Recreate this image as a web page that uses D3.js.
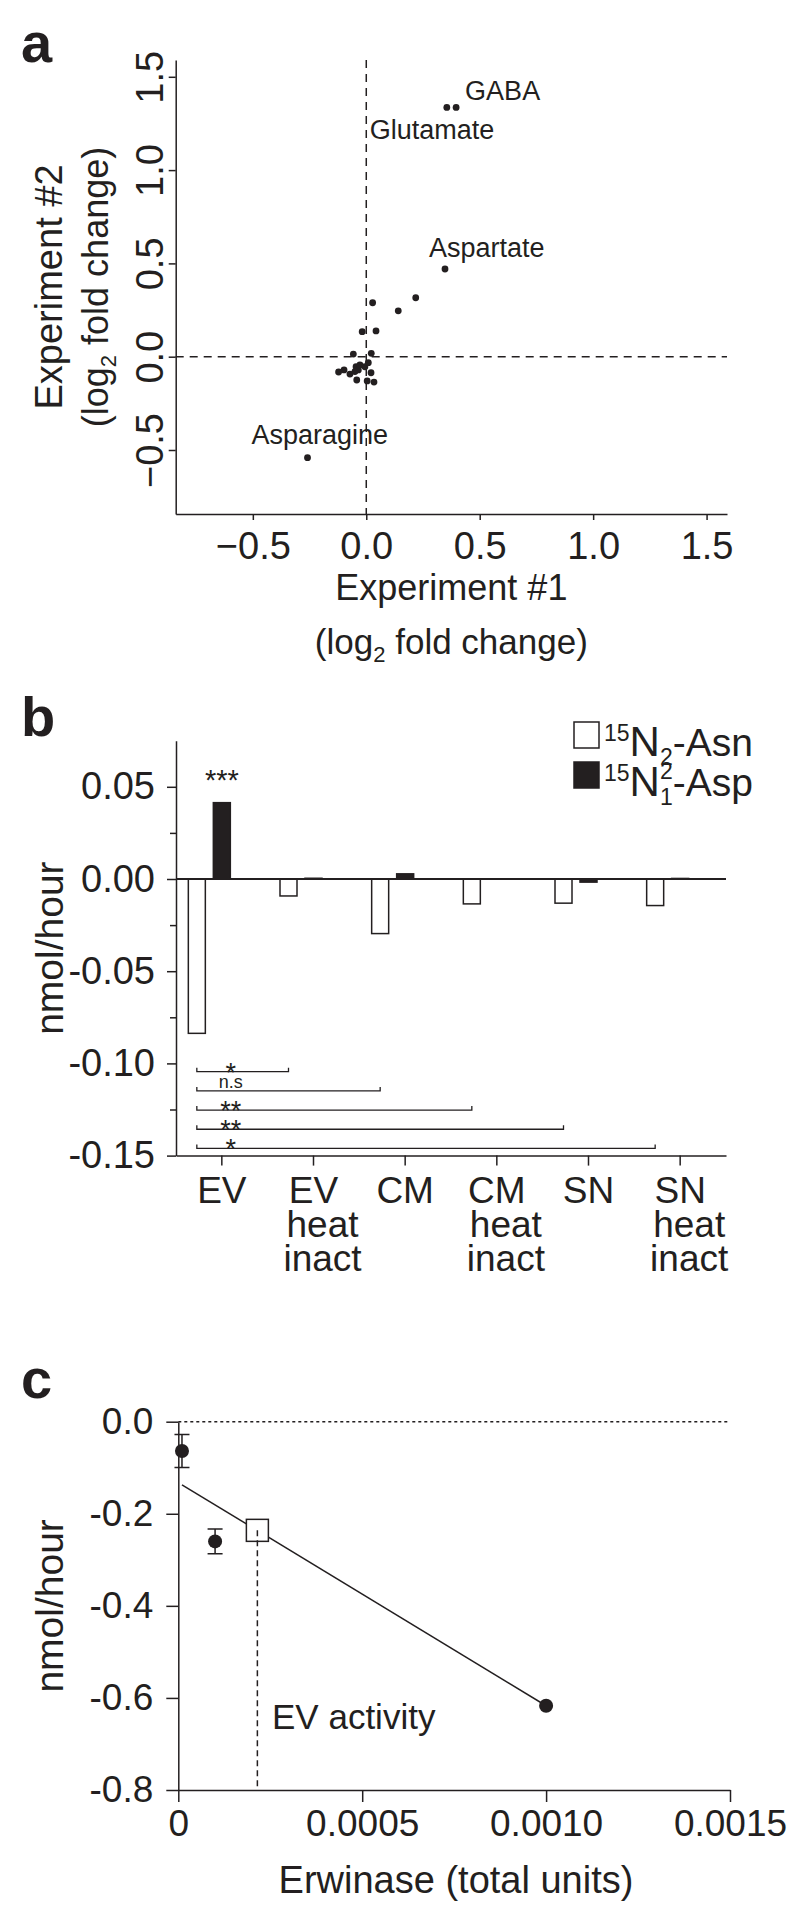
<!DOCTYPE html>
<html>
<head>
<meta charset="utf-8">
<script src="https://cdn.jsdelivr.net/npm/d3@7"></script>
<style>
  body { margin: 0; background: #fff; }
  svg text { font-family: "Liberation Sans", Arial, Helvetica, sans-serif; fill: #231f20; }
</style>
</head>
<body>
<div id="figure"></div>
<script>
// ---------- data: panel a (log2 fold change, two experiments) ----------
const exp1 = [0.355, 0.396, 0.347, 0.218, 0.141, 0.028, 0.043, -0.018, -0.057, 0.022,
  -0.122, -0.098, -0.072, -0.045, -0.035, -0.028, -0.006, 0.009, 0.021, -0.042, 0.004, 0.034, -0.050, -0.259];
const exp2 = [1.336, 1.336, 0.470, 0.316, 0.246, 0.289, 0.138, 0.134, 0.014, 0.018,
  -0.082, -0.071, -0.093, -0.054, -0.071, -0.044, -0.054, -0.032, -0.086, -0.125, -0.130, -0.136, -0.080, -0.541];
const aminoNames = ["Glutamate", "GABA", "Aspartate", "", "", "", "", "", "", "",
  "", "", "", "", "", "", "", "", "", "", "", "", "", "Asparagine"];
const aTicks = [-0.5, 0, 0.5, 1.0, 1.5];

// ---------- data: panel b (nmol/hour) ----------
const bCategories = ["EV", "EV heat inact", "CM", "CM heat inact", "SN", "SN heat inact"];
const asnRate = [-0.0837, -0.0092, -0.0296, -0.0135, -0.0131, -0.0144];
const aspRate = [0.0414, 0.0004, 0.0028, 0, -0.0017, 0.0003];
const bTicksMajor = [0.05, 0, -0.05, -0.10, -0.15];
const bTicksMinor = [0.025, -0.025, -0.075, -0.125];
const compTargets = ["EV heat inact", "CM", "CM heat inact", "SN", "SN heat inact"];
const compLabels = ["*", "n.s", "**", "**", "*"];

// ---------- data: panel c (Erwinase standard curve) ----------
const erwUnits = [0.00001, 0.0001, 0.001];
const erwRate = [-0.0636, -0.260, -0.617];
const erwErr = [0.036, 0.027, 0];
const fitLine = [{ x: 0.00001, y: -0.137 }, { x: 0.001, y: -0.617 }];
const evActivity = { x: 0.000215, y: -0.236 };
const cTicksY = [0, -0.2, -0.4, -0.6, -0.8];
const cTicksX = [0, 0.0005, 0.0010, 0.0015];

const ink = "#231f20";
const svg = d3.select("#figure").append("svg")
  .attr("width", 800).attr("height", 1924)
  .style("background", "#fff");

//style an axis group the same way everywhere
function styleAxis(g, size) {
  g.attr("font-family", null).attr("font-size", null);
  g.selectAll(".domain, .tick line").attr("stroke", ink).attr("stroke-width", 1.5);
  g.selectAll(".tick text").attr("fill", ink).style("font-size", size + "px");
}
const hyphen = (f) => (d) => f(d).replace("\u2212", "-");

//panel letters
[["a", 62], ["b", 736], ["c", 1398]].forEach(([t, y]) => {
  svg.append("text").attr("x", 21).attr("y", y)
    .style("font-size", "56px").style("font-weight", "bold").text(t);
});

////////////////////// panel a //////////////////////
const xA = d3.scaleLinear().domain([-0.84, 1.59]).range([175.7, 727]);
const yA = d3.scaleLinear().domain([-0.843, 1.59]).range([514, 60]);
const gA = svg.append("g");

gA.append("g")
  .attr("transform", `translate(0, ${yA.range()[0]})`)
  .call(d3.axisBottom(xA).tickValues(aTicks).tickFormat(d3.format(".1f"))
    .tickSize(6).tickSizeOuter(0).tickPadding(12))
  .call((g) => styleAxis(g, 38));

const yAxisA = gA.append("g")
  .attr("transform", `translate(${xA.range()[0]}, 0)`)
  .call(d3.axisLeft(yA).tickValues(aTicks).tickFormat(d3.format(".1f"))
    .tickSize(7).tickSizeOuter(0))
  .call((g) => styleAxis(g, 38));
//rotated tick labels like the original
yAxisA.selectAll(".tick text")
  .attr("transform", "rotate(-90)")
  .attr("x", 0).attr("y", -13).attr("dy", null)
  .attr("text-anchor", "middle");

//dashed zero lines
gA.append("line")
  .attr("x1", xA(0)).attr("x2", xA(0))
  .attr("y1", yA.range()[1]).attr("y2", yA.range()[0])
  .attr("stroke", ink).attr("stroke-width", 1.5).attr("stroke-dasharray", "8,6");
gA.append("line")
  .attr("x1", xA.range()[0]).attr("x2", xA.range()[1])
  .attr("y1", yA(0)).attr("y2", yA(0))
  .attr("stroke", ink).attr("stroke-width", 1.5).attr("stroke-dasharray", "8,6");

gA.selectAll(".dot")
  .data(exp1.map((d, i) => ({ x: d, y: exp2[i], name: aminoNames[i] })))
  .enter()
  .append("circle")
  .attr("class", "dot")
  .attr("cx", (d) => xA(d.x))
  .attr("cy", (d) => yA(d.y))
  .attr("r", 3.4)
  .attr("fill", ink);

//label offsets (px) from each named point
const labelShift = {
  GABA: [9, -7],
  Glutamate: [-77, 32],
  Aspartate: [-16, -12],
  Asparagine: [-56, -14],
};
exp1.forEach((d, i) => {
  const name = aminoNames[i];
  if (!name) return;
  gA.append("text")
    .attr("x", xA(d) + labelShift[name][0])
    .attr("y", yA(exp2[i]) + labelShift[name][1])
    .style("font-size", "27px")
    .text(name);
});

//axis titles
const xTitleA = (xA.range()[0] + xA.range()[1]) / 2;
gA.append("text").attr("x", xTitleA).attr("y", 600)
  .attr("text-anchor", "middle").style("font-size", "36px").text("Experiment #1");
const logA = gA.append("text").attr("x", xTitleA).attr("y", 654)
  .attr("text-anchor", "middle").style("font-size", "35px");
logA.append("tspan").text("(log");
logA.append("tspan").attr("dy", 8).style("font-size", "22px").text("2");
logA.append("tspan").attr("dy", -8).text(" fold change)");

const yMidA = (yA.range()[0] + yA.range()[1]) / 2;
gA.append("text").attr("transform", `translate(62, ${yMidA}) rotate(-90)`)
  .attr("text-anchor", "middle").style("font-size", "38px").text("Experiment #2");
const logA2 = gA.append("text").attr("transform", `translate(108, ${yMidA}) rotate(-90)`)
  .attr("text-anchor", "middle").style("font-size", "36px");
logA2.append("tspan").text("(log");
logA2.append("tspan").attr("dy", 8).style("font-size", "22px").text("2");
logA2.append("tspan").attr("dy", -8).text(" fold change)");

////////////////////// panel b //////////////////////
const xB = d3.scaleBand().domain(bCategories).range([176, 726]);
const yB = d3.scaleLinear().domain([-0.15, 0.075]).range([1155.6, 740.7]);
const gB = svg.append("g");
const cx = (c) => xB(c) + xB.bandwidth() / 2;

gB.append("g")
  .attr("transform", `translate(${xB.range()[0]}, 0)`)
  .call(d3.axisLeft(yB).tickValues(bTicksMajor).tickFormat(hyphen(d3.format(".2f")))
    .tickSize(9).tickSizeOuter(0).tickPadding(12))
  .call((g) => styleAxis(g, 38));
gB.append("g")
  .attr("transform", `translate(${xB.range()[0]}, 0)`)
  .call(d3.axisLeft(yB).tickValues(bTicksMinor).tickFormat("").tickSize(6).tickSizeOuter(0))
  .call((g) => styleAxis(g, 38))
  .select(".domain").remove();

gB.append("g")
  .attr("transform", `translate(0, ${yB(-0.15)})`)
  .call(d3.axisBottom(xB).tickFormat("").tickSize(10).tickSizeOuter(0))
  .call((g) => styleAxis(g, 38));

//multi line category labels
bCategories.forEach((c) => {
  const lines = c.split(" ");
  lines.forEach((t, j) => {
    gB.append("text")
      .attr("x", cx(c) + (j === 0 ? 0 : 9))
      .attr("y", 1203 + j * 34)
      .attr("text-anchor", "middle")
      .style("font-size", "37px")
      .text(t);
  });
});

const barW = 17;
const barRect = (sel, vals, offset, fill) => {
  sel.selectAll(null)
    .data(vals.map((v, i) => ({ v: v, c: bCategories[i] })))
    .enter()
    .append("rect")
    .attr("x", (d) => cx(d.c) + offset)
    .attr("y", (d) => yB(Math.max(0, d.v)))
    .attr("width", barW)
    .attr("height", (d) => Math.abs(yB(d.v) - yB(0)))
    .attr("fill", fill)
    .attr("stroke", ink)
    .attr("stroke-width", 1.5);
};
barRect(gB, asnRate, -33.5, "#fff");
barRect(gB, aspRate, -8.5, ink);

gB.append("line")
  .attr("x1", xB.range()[0]).attr("x2", xB.range()[1])
  .attr("y1", yB(0)).attr("y2", yB(0))
  .attr("stroke", ink).attr("stroke-width", 1.8);

gB.append("text").attr("x", cx("EV")).attr("y", 790)
  .attr("text-anchor", "middle").style("font-size", "29px").text("***");

//significance brackets from EV
compTargets.forEach((c, i) => {
  const y = yB(-0.1045 - i * 0.0104);
  const x1 = cx("EV") - 25, x2 = cx(c) - 25;
  gB.append("path")
    .attr("d", `M${x1},${y - 4}V${y}H${x2}V${y - 4}`)
    .attr("fill", "none").attr("stroke", ink).attr("stroke-width", 1.3);
  const isStar = compLabels[i] !== "n.s";
  gB.append("text")
    .attr("x", cx("EV") + 9)
    .attr("y", isStar ? y + 10 : y - 3)
    .attr("text-anchor", "middle")
    .style("font-size", isStar ? "27px" : "18px")
    .text(compLabels[i]);
});

//legend
const legend = gB.append("g");
[["2", "", "-Asn"], ["1", "2", "-Asp"]].forEach(([sub, sup, rest], i) => {
  const top = 722 + i * 40;
  legend.append("rect")
    .attr("x", 574).attr("y", top).attr("width", 25).attr("height", 26)
    .attr("fill", i === 0 ? "#fff" : ink).attr("stroke", ink).attr("stroke-width", 1.5);
  const base = top + 34;
  const t = legend.append("text").attr("x", 604).attr("y", base).style("font-size", "39px");
  t.append("tspan").attr("y", base - 15).style("font-size", "23px").text("15");
  t.append("tspan").attr("y", base).style("font-size", "42px").text("N");
  if (sup) {
    t.append("tspan").attr("y", base - 17).style("font-size", "23px").text(sup);
    t.append("tspan").attr("dx", -12.8).attr("y", base + 9).style("font-size", "23px").text(sub);
  } else {
    t.append("tspan").attr("y", base + 9).style("font-size", "23px").text(sub);
  }
  t.append("tspan").attr("y", base).text(rest);
});

gB.append("text").attr("transform", `translate(63, ${(yB.range()[0] + yB.range()[1]) / 2}) rotate(-90)`)
  .attr("text-anchor", "middle").style("font-size", "39px").text("nmol/hour");

////////////////////// panel c //////////////////////
const xC = d3.scaleLinear().domain([0, 0.0015]).range([178.3, 730]);
const yC = d3.scaleLinear().domain([-0.8, 0]).range([1790, 1421.7]);
const gC = svg.append("g");

gC.append("g")
  .attr("transform", `translate(${xC.range()[0]}, 0)`)
  .call(d3.axisLeft(yC).tickValues(cTicksY).tickFormat(hyphen(d3.format(".1f")))
    .tickSize(12).tickSizeOuter(0).tickPadding(13))
  .call((g) => styleAxis(g, 37));
gC.append("g")
  .attr("transform", `translate(0, ${yC.range()[0]})`)
  .call(d3.axisBottom(xC).tickValues(cTicksX)
    .tickFormat((d) => (d === 0 ? "0" : d3.format(".4f")(d)))
    .tickSize(12).tickSizeOuter(0).tickPadding(8))
  .call((g) => styleAxis(g, 37));

//dotted zero line
gC.append("line")
  .attr("x1", xC.range()[0]).attr("x2", xC.range()[1])
  .attr("y1", yC(0)).attr("y2", yC(0))
  .attr("stroke", ink).attr("stroke-width", 1.5).attr("stroke-dasharray", "3,3");

//fit line
gC.append("path")
  .attr("d", d3.line().x((d) => xC(d.x)).y((d) => yC(d.y))(fitLine))
  .attr("fill", "none").attr("stroke", ink).attr("stroke-width", 1.5);

//error bars and points
erwUnits.forEach((u, i) => {
  if (erwErr[i] > 0) {
    const x = xC(u), y1 = yC(erwRate[i] + erwErr[i]), y2 = yC(erwRate[i] - erwErr[i]);
    gC.append("path")
      .attr("d", `M${x},${y1}V${y2}M${x - 7.5},${y1}H${x + 7.5}M${x - 7.5},${y2}H${x + 7.5}`)
      .attr("fill", "none").attr("stroke", ink).attr("stroke-width", 1.5);
  }
  gC.append("circle").attr("cx", xC(u)).attr("cy", yC(erwRate[i])).attr("r", 7).attr("fill", ink);
});

//EV activity
gC.append("rect")
  .attr("x", xC(evActivity.x) - 11).attr("y", yC(evActivity.y) - 11)
  .attr("width", 22).attr("height", 22)
  .attr("fill", "#fff").attr("stroke", ink).attr("stroke-width", 1.5);
gC.append("line")
  .attr("x1", xC(evActivity.x)).attr("x2", xC(evActivity.x))
  .attr("y1", yC(evActivity.y)).attr("y2", yC(-0.8))
  .attr("stroke", ink).attr("stroke-width", 1.5).attr("stroke-dasharray", "6,4");
gC.append("text").attr("x", 272).attr("y", 1729).style("font-size", "35px").text("EV activity");

gC.append("text").attr("transform", `translate(63, ${(yC.range()[0] + yC.range()[1]) / 2}) rotate(-90)`)
  .attr("text-anchor", "middle").style("font-size", "39px").text("nmol/hour");
gC.append("text").attr("x", 456).attr("y", 1893)
  .attr("text-anchor", "middle").style("font-size", "38px").text("Erwinase (total units)");
</script>
</body>
</html>
